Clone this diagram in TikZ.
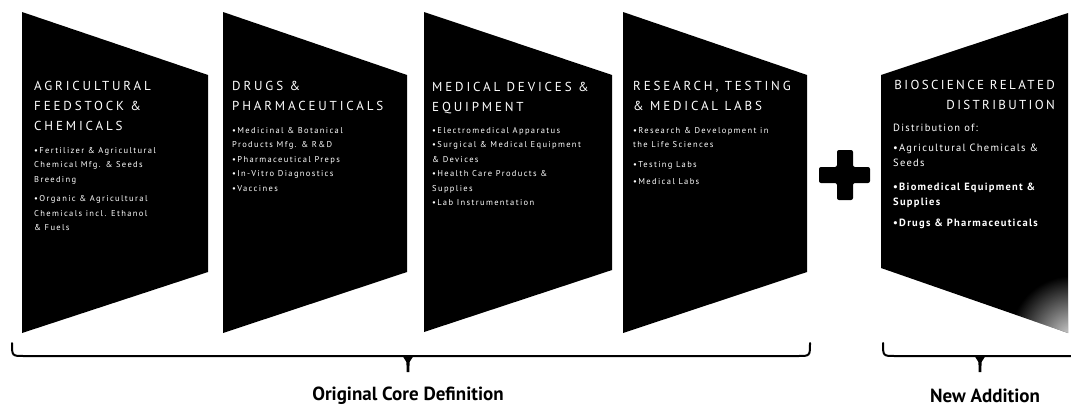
\documentclass[tikz,border=0pt]{standalone}
\usepackage{fontspec}
\setmainfont{PT Sans}
\newfontfamily\titlefont[LetterSpace=22]{PT Sans}
\newfontfamily\titlefontb[LetterSpace=18]{PT Sans}
\newfontfamily\bodyfont[LetterSpace=16]{PT Sans}
\newfontfamily\bodyfontb[LetterSpace=12]{PT Sans}
\usetikzlibrary{fadings}
\tikzfading[name=softfade, inner color=transparent!0, outer color=transparent!100]
\begin{document}
\begin{tikzpicture}[x=1pt,y=-1pt,
  panel/.style={fill=black},
  ptitle/.style={text=white, anchor=north west, inner sep=0pt, align=left,
    font=\titlefont\fontsize{13}{20}\selectfont},
  pbody/.style={text=white, anchor=north west, inner sep=0pt, align=left,
    font=\bodyfont\fontsize{8.5}{14.5}\selectfont},
  ptitleb/.style={text=white, anchor=north east, inner sep=0pt, align=right,
    font=\titlefontb\fontsize{13}{20}\selectfont},
  pbodyb/.style={text=white, anchor=north west, inner sep=0pt, align=left,
    font=\bodyfontb\fontsize{10.5}{15}\selectfont},
  brace/.style={line width=2pt, line cap=round},
  caption/.style={font=\bfseries\fontsize{19}{22}\selectfont, inner sep=0pt}]
\useasboundingbox (0,0) rectangle (1071,413);
\fill[white] (0,0) rectangle (1071,413);
% panels
\fill[panel] (22,12) -- (208,75) -- (208,272) -- (22,333) -- cycle;
\fill[panel] (223,12) -- (407,75) -- (407,272) -- (223,333) -- cycle;
\fill[panel] (424,12) -- (612,75) -- (612,270) -- (424,332) -- cycle;
\fill[panel] (623,12) -- (807,75) -- (807,272) -- (623,333) -- cycle;
\fill[panel] (881,75) -- (1068,13) -- (1068,333) -- (881,268) -- cycle;
\begin{scope}
  \clip (881,75) -- (1068,13) -- (1068,333) -- (881,268) -- cycle;
  \fill[white, fill opacity=0.85, path fading=softfade] (1072,338) circle (62);
\end{scope}
% panel 1
\node[ptitle] (t1) at (34,81) {AGRICULTURAL\\FEEDSTOCK \&\\CHEMICALS};
\node[pbody] (b1) at (34,147) {•Fertilizer \& Agricultural\\Chemical Mfg. \& Seeds\\Breeding\\[5pt]
  •Organic \& Agricultural\\Chemicals incl. Ethanol\\\& Fuels};
% panel 2
\node[ptitle] (t2) at (232,81) {DRUGS \&\\PHARMACEUTICALS};
\node[pbody] (b2) at (232,127) {•Medicinal \& Botanical\\Products Mfg. \& R\&D\\•Pharmaceutical Preps\\
  •In-Vitro Diagnostics\\•Vaccines};
% panel 3
\node[ptitle] (t3) at (432,82) {MEDICAL DEVICES \&\\EQUIPMENT};
\node[pbody] (b3) at (432,127) {•Electromedical Apparatus\\•Surgical \& Medical Equipment\\\& Devices\\
  •Health Care Products \&\\Supplies\\•Lab Instrumentation};
% panel 4
\node[ptitle] (t4) at (633,81) {RESEARCH, TESTING\\\& MEDICAL LABS};
\node[pbody] (b4) at (633,127) {•Research \& Development in\\the Life Sciences\\[5pt]•Testing Labs\\[3pt]•Medical Labs};
% panel 5
\node[ptitleb] (t5) at (1055,80) {BIOSCIENCE RELATED\\DISTRIBUTION};
\node[pbodyb] (b5) at (893,124) {Distribution of:\\[5pt]•Agricultural Chemicals \&\\Seeds\\[9pt]
  \textbf{•Biomedical Equipment \&}\\\textbf{Supplies}\\[6pt]\textbf{•Drugs \& Pharmaceuticals}};
% plus sign
\fill[rounded corners=2pt] (837,150) -- (853,150) -- (853,167) -- (870,167) -- (870,183) -- (853,183)
  -- (853,200) -- (837,200) -- (837,183) -- (819,183) -- (819,167) -- (837,167) -- cycle;
% brackets
\coordinate (l1) at (12,343);
\coordinate (r1) at (810,343);
\coordinate (m1) at (408,356);
\coordinate (l2) at (883,343);
\coordinate (m2) at (980,356);
\draw[brace] (l1) .. controls (12,356) .. (24,356) -- (798,356) .. controls (810,356) .. (r1);
\fill (402,355) -- (414,355) -- (409.6,362) -- (409.3,372) -- (406.7,372) -- (406.4,362) -- cycle;
\draw[brace] (l2) .. controls (883,356) .. (895,356) -- (1071,356);
\fill (974,355) -- (986,355) -- (981.6,362) -- (981.3,372) -- (978.7,372) -- (978.4,362) -- cycle;
% captions
\node[caption] (orig) at (408,396) {Original Core Definition};
\node[caption] (newadd) at (985,396) {New Addition};
\end{tikzpicture}
\end{document}
